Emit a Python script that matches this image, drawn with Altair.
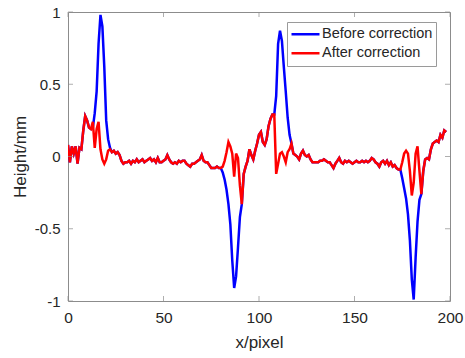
import altair as alt
import pandas as pd

# x positions (pixel index)
x_vals = list(range(199))

# After correction (red)
after = [
    0.08, -0.04, 0.07, 0.02, 0.07, -0.05, 0.06, 0.05, 0.18, 0.28,
    0.25, 0.20, 0.19, 0.24, 0.06, 0.19, 0.24, 0.05, -0.02, -0.05,
    -0.02, 0.04, 0.05, 0.03, 0.04, 0.02, 0.03, 0.01, -0.03, -0.05,
    -0.04, -0.04, -0.03, -0.05, -0.03, -0.04, -0.02, -0.04, -0.03, -0.02,
    -0.04, -0.03, -0.02, -0.01, -0.03, -0.02, -0.04, -0.01, -0.04, -0.04,
    -0.03, -0.02, 0.01, -0.02, -0.04, -0.05, -0.04, -0.05, -0.03, -0.04,
    -0.03, -0.03, -0.05, -0.06, -0.07, -0.05, -0.05, -0.04, -0.03, -0.02,
    0.01, -0.03, -0.04, -0.04, -0.06, -0.08, -0.08, -0.08, -0.07, -0.08,
    -0.08, -0.07, -0.03, 0.03, 0.10, 0.07, 0.02, -0.14, 0.02, -0.01,
    -0.20, -0.33, -0.12, -0.07, -0.03, 0.05, 0.01, -0.02, 0.04, 0.09,
    0.15, 0.17, 0.10, 0.08, 0.12, 0.21, 0.26, 0.29, 0.29, -0.12,
    -0.05, 0.02, 0.03, 0.00, -0.04, 0.03, 0.05, 0.09, 0.02, 0.01,
    0.00, -0.02, 0.02, 0.04, 0.01, 0.00, 0.01, -0.02, -0.04, -0.04,
    -0.04, -0.04, -0.03, -0.03, -0.02, -0.03, -0.04, -0.04, -0.06, -0.08,
    -0.05, -0.03, -0.01, -0.04, -0.05, -0.03, -0.04, -0.03, -0.04, -0.05,
    -0.04, -0.03, -0.04, -0.04, -0.03, -0.04, -0.03, -0.04, -0.03, -0.01,
    -0.02, -0.04, -0.05, -0.07, -0.04, -0.03, -0.05, -0.03, -0.06, -0.04,
    -0.07, -0.06, -0.08, -0.09, -0.09, -0.04, 0.02, 0.04, 0.02, -0.10,
    -0.27, -0.18, 0.02, 0.07, -0.10, -0.26, -0.10, -0.02, -0.01, -0.02,
    0.05, 0.09, 0.10, 0.11, 0.10, 0.15, 0.13, 0.18, 0.17,
]

# Before correction (blue): same as after except at the four peaks
peak_x = [13, 14, 15, 16, 17, 18, 19, 20, 21, 22,
          80, 81, 82, 83, 84, 85, 86, 87, 88, 89, 90,
          108, 109, 110, 111, 112, 113, 114, 115, 116,
          174, 175, 176, 177, 178, 179, 180, 181, 182, 183, 184]
peak_y = [0.20, 0.30, 0.45, 0.78, 0.98, 0.90, 0.62, 0.25, 0.12, 0.06,
          -0.08, -0.11, -0.16, -0.23, -0.33, -0.47, -0.72, -0.91, -0.83, -0.63, -0.42,
          0.29, 0.42, 0.78, 0.87, 0.80, 0.62, 0.45, 0.27, 0.15,
          -0.09, -0.15, -0.22, -0.29, -0.40, -0.58, -0.85, -0.99, -0.70, -0.45, -0.30]

before = list(after)
for px, py in zip(peak_x, peak_y):
    before[px] = py

x_ticks = [0, 50, 100, 150, 200]
y_ticks = [-1, -0.5, 0, 0.5, 1]

series_names = ["Before correction", "After correction"]

df = pd.DataFrame({
    "x": x_vals + x_vals,
    "y": before + after,
    "series": [series_names[0]] * len(x_vals) + [series_names[1]] * len(x_vals),
    "ord": list(range(2 * len(x_vals))),
})

W, H = 382, 289
axis_col = "#8c8c8c"
text_col = "#262626"
font = "Liberation Sans"

xscale = alt.Scale(domain=[0, 200], nice=False, zero=False)
yscale = alt.Scale(domain=[-1, 1], nice=False, zero=False)

lines = alt.Chart(df).mark_line(strokeWidth=2.5, clip=True).encode(
    x=alt.X("x:Q", scale=xscale,
            axis=alt.Axis(values=x_ticks, title="x/pixel", grid=False,
                          tickSize=0, labelPadding=9, titlePadding=9,
                          labelFontSize=15.5, titleFontSize=17,
                          labelFlush=False, labelOverlap=False, labelBound=False,
                          labelExpr="'' + datum.value")),
    y=alt.Y("y:Q", scale=yscale,
            axis=alt.Axis(values=y_ticks, title="Height/mm", grid=False,
                          tickSize=0, labelPadding=8, titlePadding=5,
                          labelFontSize=15, titleFontSize=17,
                          labelFlush=False, labelOverlap=False,
                          labelExpr="'' + datum.value")),
    color=alt.Color("series:N",
                    scale=alt.Scale(domain=series_names, range=["#0000ff", "#ff0000"]),
                    sort=series_names,
                    legend=alt.Legend(title=None, orient="none", legendX=219, legendY=10,
                                      symbolType="stroke", symbolSize=784,
                                      symbolStrokeWidth=2.5, labelFontSize=14.5,
                                      labelColor=text_col, labelFont=font,
                                      strokeColor="#9a9a9a", fillColor="white",
                                      padding=3, clipHeight=18.5, rowPadding=0,
                                      labelOffset=1, labelLimit=300)),
    order="ord:Q",
)

xt = pd.DataFrame({"t": x_ticks})
yt = pd.DataFrame({"t": y_ticks})

tick_col = "#8c8c8c"
xt_bot = alt.Chart(xt).mark_tick(size=5, thickness=1, color=tick_col).encode(
    x=alt.X("t:Q", scale=xscale), y=alt.value(H - 2.5))
xt_top = alt.Chart(xt).mark_tick(size=5, thickness=1, color=tick_col).encode(
    x=alt.X("t:Q", scale=xscale), y=alt.value(2.5))
yt_left = alt.Chart(yt).mark_tick(size=5, thickness=1, color=tick_col).encode(
    y=alt.Y("t:Q", scale=yscale), x=alt.value(2.5))
yt_right = alt.Chart(yt).mark_tick(size=5, thickness=1, color=tick_col).encode(
    y=alt.Y("t:Q", scale=yscale), x=alt.value(W - 2.5))

chart = alt.layer(lines, xt_bot, xt_top, yt_left, yt_right).properties(
    width=W, height=H,
    padding={"left": 68, "top": 12, "right": 15, "bottom": 57},
    autosize=alt.AutoSizeParams(type="none"),
    background="white",
).configure_view(
    stroke=axis_col, strokeWidth=1
).configure_axis(
    domain=False, labelColor=text_col, titleColor=text_col,
    labelFont=font, titleFont=font, titleFontWeight="normal",
)

chart.save("out.html", embed_options={"renderer": "svg", "actions": False})
